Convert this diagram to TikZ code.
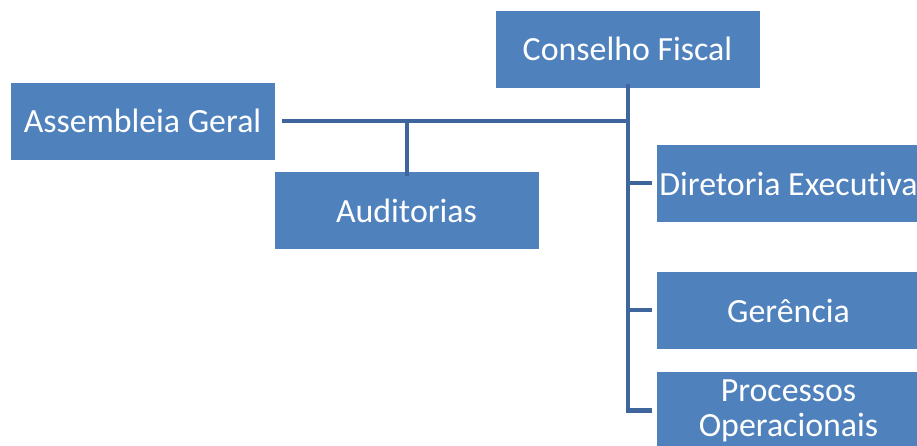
\documentclass[tikz,border=0pt]{standalone}
\usepackage{fontspec}
\setmainfont{Carlito}[Ligatures=NoCommon]
\usepackage{xcolor}
\definecolor{caixaazul}{HTML}{4F81BD}
\definecolor{linhaazul}{HTML}{3E659C}
\usetikzlibrary{positioning, calc}

\tikzset{
  caixa/.style={draw=white, line width=0.8bp, fill=caixaazul, text=white,
    minimum width=265bp, minimum height=78bp, inner sep=0pt, align=center,
    font=\fontsize{34}{35}\selectfont},
  ligacao/.style={draw=linhaazul, line width=4bp}
}

\begin{document}
\begin{tikzpicture}[x=1bp,y=-1bp]
    \useasboundingbox[fill=white] (0,0) rectangle (917,446);

    % caixas do organograma
    \node[caixa] (conselho) at (627.5,49) {Conselho Fiscal};
    \node[caixa] (assembleia) at (142.5,121) {Assembleia Geral};
    \node[caixa] (auditorias) at (406.5,210.5) {Auditorias};
    \node[caixa] (diretoria) at (788.5,183.5) {Diretoria Executiva};
    \node[caixa] (gerencia) at (788.5,310.5) {Gerência};
    \node[caixa] (processos) at (788.5,410.5) {Processos\\Operacionais};

    % pontos de ligacao
    \coordinate (tronco) at (conselho.south |- assembleia.east);
    \coordinate (ramo) at (auditorias.north |- assembleia.east);
    \coordinate (fundo) at (conselho.south |- processos.west);

    \draw[ligacao] ([xshift=7]assembleia.east) -- (tronco);
    \draw[ligacao] (ramo) -- ([yshift=-5]auditorias.north);
    \draw[ligacao] ([yshift=4]conselho.south) -- (fundo) -- ([xshift=-4]processos.west);
    \draw[ligacao] (conselho.south |- diretoria.west) -- ([xshift=-4]diretoria.west);
    \draw[ligacao] (conselho.south |- gerencia.west) -- ([xshift=-4]gerencia.west);
\end{tikzpicture}
\end{document}
